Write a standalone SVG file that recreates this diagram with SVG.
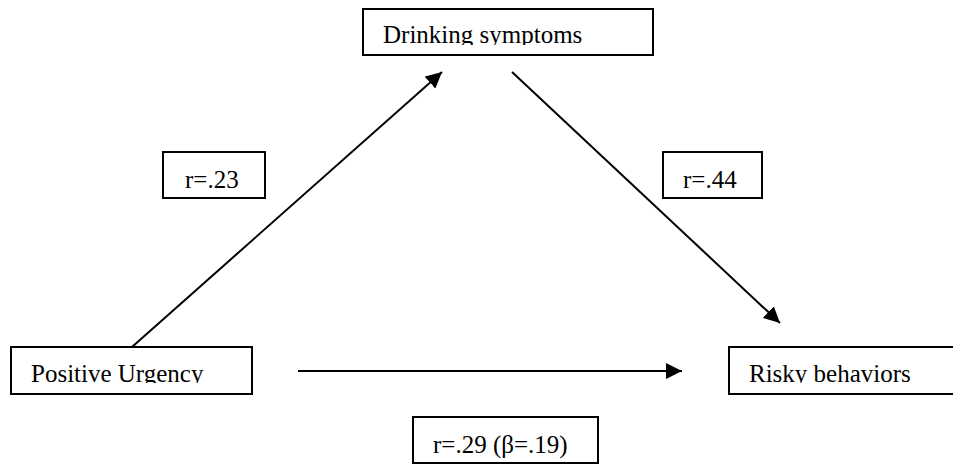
<svg xmlns="http://www.w3.org/2000/svg" width="953" height="466" viewBox="0 0 953 466">
<style>
.box{fill:#fff;stroke:#000;stroke-width:2}
.t{font-family:"Liberation Serif","Times New Roman",serif;font-size:25px;fill:#000}
.c{stroke:#000;stroke-width:2;fill:none}
</style>
<defs>
<marker id="ah" markerUnits="userSpaceOnUse" markerWidth="18" markerHeight="16" refX="16" refY="8" orient="auto">
<path d="M0,0 L16,8 L0,16 Z" fill="#000"/>
</marker>
<clipPath id="cDrink"><rect x="364" y="10" width="288" height="35"/></clipPath>
<clipPath id="cPos"><rect x="12" y="348" width="239" height="35"/></clipPath>
<clipPath id="cRisk"><rect x="730" y="348" width="223" height="35"/></clipPath>
</defs>
<rect width="953" height="466" fill="#fff"/>
<g id="connectors">
<line class="c" x1="132" y1="347" x2="442" y2="72" marker-end="url(#ah)"/>
<line class="c" x1="512" y1="72" x2="780" y2="323" marker-end="url(#ah)"/>
<line class="c" x1="298" y1="371" x2="682" y2="371" marker-end="url(#ah)"/>
</g>
<g id="drinking">
<rect class="box" x="363" y="9" width="290" height="46"/>
<text class="t" x="383" y="43" clip-path="url(#cDrink)">Drinking symptoms</text>
</g>
<g id="positive">
<rect class="box" x="11" y="347" width="241" height="47"/>
<text class="t" x="31" y="382" clip-path="url(#cPos)">Positive Urgency</text>
</g>
<g id="risky">
<rect class="box" x="729" y="347" width="230" height="47"/>
<text class="t" x="749" y="382" clip-path="url(#cRisk)">Risky behaviors</text>
</g>
<g id="r23">
<rect class="box" x="163" y="152" width="102" height="46"/>
<text class="t" x="185" y="188">r=.23</text>
</g>
<g id="r44">
<rect class="box" x="663" y="152" width="99" height="46"/>
<text class="t" x="683" y="188">r=.44</text>
</g>
<g id="r29">
<rect class="box" x="413" y="417" width="185" height="46"/>
<text class="t" x="433" y="453">r=.29 (β=.19)</text>
</g>
</svg>
